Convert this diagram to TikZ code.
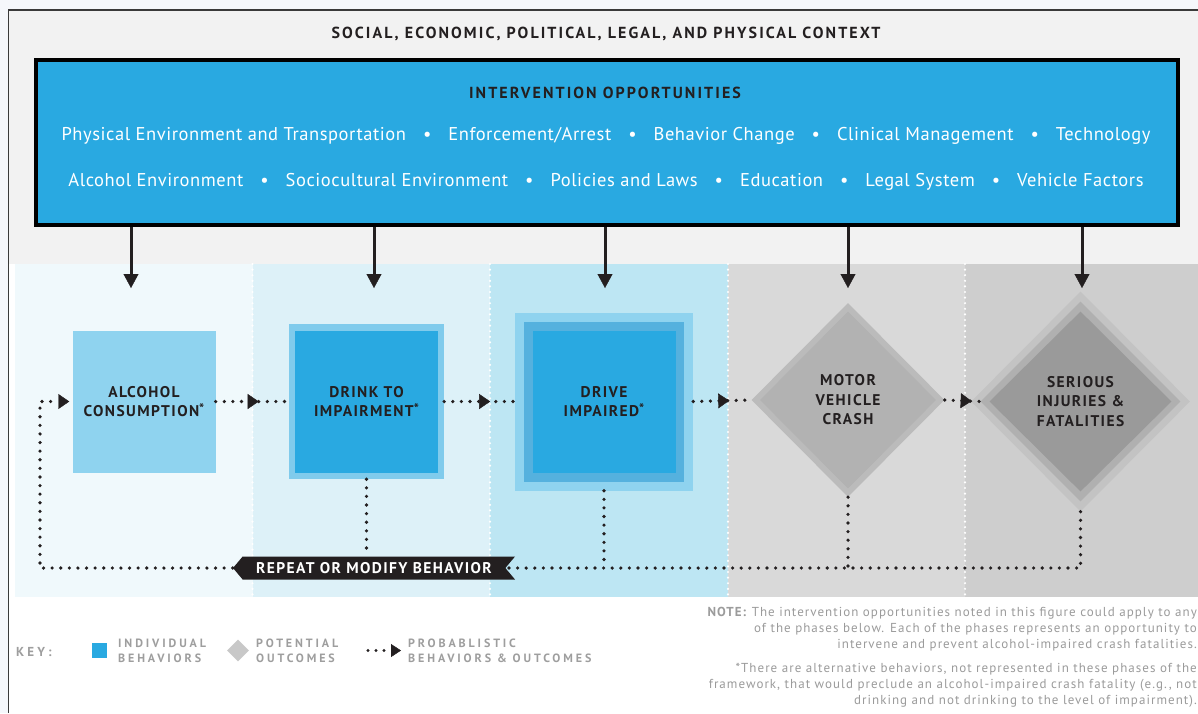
\documentclass[tikz,border=0pt]{standalone}
\usepackage{fontspec}
\setmainfont{PT Sans}
\newfontfamily\dinfont[LetterSpace=9]{PT Sans}
\newfontfamily\titlefont[LetterSpace=13]{PT Sans}
\newfontfamily\rowfont[LetterSpace=3]{PT Sans}
\newfontfamily\keyfont[LetterSpace=24]{PT Sans}
\newfontfamily\notefont[LetterSpace=8]{PT Sans}
\usetikzlibrary{shapes.geometric, shapes.symbols, arrows.meta, decorations.markings, positioning, calc}

\definecolor{pagebg}{HTML}{F5F7FB}
\definecolor{framegray}{HTML}{3A3A3A}
\definecolor{ctxgray}{HTML}{F2F2F2}
\definecolor{ivblue}{HTML}{29A9E1}
\definecolor{inkdark}{HTML}{231F20}
\definecolor{bandA}{HTML}{F0F9FC}
\definecolor{bandB}{HTML}{DDF1F8}
\definecolor{bandC}{HTML}{BDE6F3}
\definecolor{bandD}{HTML}{D9D9D9}
\definecolor{bandE}{HTML}{CECECE}
\definecolor{paleblue}{HTML}{8FD3EF}
\definecolor{rimblue}{HTML}{80CBEC}
\definecolor{midblue}{HTML}{55B1DE}
\definecolor{crashrim}{HTML}{BBBBBB}
\definecolor{crashcore}{HTML}{B2B2B2}
\definecolor{sevrim}{HTML}{C3C3C3}
\definecolor{sevmid}{HTML}{B0B0B0}
\definecolor{sevcore}{HTML}{9A9A9A}
\definecolor{keygray}{HTML}{9E9E9E}
\definecolor{keydiamond}{HTML}{C8C8C8}
\definecolor{notegray}{HTML}{9B9B9B}

\tikzstyle{phase}=[inner sep=0pt, font=\dinfont\bfseries\fontsize{15.5}{19.5}\selectfont, text=inkdark, align=center]
\tikzstyle{heading}=[inner sep=0pt, font=\titlefont\bfseries\fontsize{16}{19}\selectfont, text=inkdark]
\tikzstyle{opprow}=[inner sep=0pt, text=white, font=\rowfont\fontsize{18.5}{21}\selectfont]
\tikzstyle{behavior}=[rectangle, inner sep=0pt, draw=none]
\tikzstyle{outcome}=[shape=diamond, aspect=1, inner sep=0pt, draw=none]
\tikzstyle{dotline}=[inkdark, line width=3.6pt, dash pattern=on 0pt off 8.6pt, line cap=round]
\tikzstyle{sepline}=[white, line width=2.4pt, dash pattern=on 0pt off 5.6pt, line cap=round]
\tikzstyle{downarrow}=[inkdark, line width=3pt, -{Triangle[length=14pt, width=15pt, line width=0.4pt]}]
\tikzstyle{keytext}=[inner sep=0pt, anchor=west, align=left, text=keygray, font=\keyfont\bfseries\fontsize{12}{15}\selectfont]
\tikzstyle{notetext}=[inner sep=0pt, anchor=north east, align=right, text=notegray, font=\notefont\fontsize{13}{16}\selectfont]
\tikzset{midtip/.style={postaction={decorate, decoration={markings,
  mark=at position #1 with {\arrow{Triangle[length=11pt, width=15pt, line width=0.4pt]}}}}}}
\newcommand{\oppsep}{\hspace{17pt}\textbullet\hspace{17pt}}
\newcommand{\fnmark}{\raisebox{3.5pt}{\fontsize{13.5}{13.5}\selectfont*}}

\begin{document}
\begin{tikzpicture}[x=1pt, y=-1pt]
\useasboundingbox (0,0) rectangle (1198,713);

% background, context frame
\fill[pagebg] (0,0) rectangle (1198,713);
\fill[white] (8.5,10) rectangle (1198,713);
\fill[ctxgray] (8.5,10) rectangle (1198,264);
\draw[framegray, line width=1.4pt] (8.5,713) -- (8.5,10) -- (1198,10);
\node[heading] (context) at (606,34) {SOCIAL, ECONOMIC, POLITICAL, LEGAL, AND PHYSICAL CONTEXT};

% intervention box
\node[draw=black, line width=4pt, fill=ivblue, minimum width=1142pt, minimum height=165pt, inner sep=0pt] (opps) at (607,142.5) {};
\node[heading] (oppstitle) at (605,93) {INTERVENTION OPPORTUNITIES};
\node[opprow] (row1) at (606,136) {Physical Environment and Transportation\oppsep Enforcement/Arrest\oppsep Behavior Change\oppsep Clinical Management\oppsep Technology};
\node[opprow] (row2) at (606,182) {Alcohol Environment\oppsep Sociocultural Environment\oppsep Policies and Laws\oppsep Education\oppsep Legal System\oppsep Vehicle Factors};

% phase bands
\fill[bandA] (14.5,264) rectangle (252.5,597);
\fill[bandB] (252.5,264) rectangle (490,597);
\fill[bandC] (490,264) rectangle (728,597);
\fill[bandD] (728,264) rectangle (965,597);
\fill[bandE] (965,264) rectangle (1198,597);
\draw[sepline] (252.5,264) -- (252.5,597);\draw[sepline] (490,264) -- (490,597);
\draw[sepline] (728,264) -- (728,597);\draw[sepline] (965,264) -- (965,597);

% arrows into the phases
\coordinate (in1) at (131,288);\coordinate (in2) at (374,288);\coordinate (in3) at (605,288);
\coordinate (in4) at (848,288);\coordinate (in5) at (1082,288);
\draw[downarrow] (opps.south -| in1) -- (in1);\draw[downarrow] (opps.south -| in2) -- (in2);
\draw[downarrow] (opps.south -| in3) -- (in3);\draw[downarrow] (opps.south -| in4) -- (in4);
\draw[downarrow] (opps.south -| in5) -- (in5);

% behaviors
\node[behavior, phase, fill=paleblue, minimum width=143pt, minimum height=142pt] (alc) at (144,401.5) {ALCOHOL\\CONSUMPTION\fnmark};
\node[behavior, fill=rimblue, minimum width=155pt, minimum height=155pt] (drinkrim) at (366.5,401.5) {};
\node[behavior, phase, fill=ivblue, minimum width=143pt, minimum height=142pt] (drink) at (drinkrim) {DRINK TO\\IMPAIRMENT\fnmark};
\node[behavior, fill=paleblue, minimum width=178pt, minimum height=178pt] (driverim) at (604,401.5) {};
\node[behavior, fill=midblue, minimum width=160pt, minimum height=160pt] (drivemid) at (driverim) {};
\node[behavior, phase, fill=ivblue, minimum width=143pt, minimum height=142pt] (drive) at (driverim) {DRIVE\\IMPAIRED\fnmark};

% outcomes
\node[outcome, fill=crashrim, minimum width=193pt, minimum height=194pt] (crashrim) at (848,400) {};
\node[outcome, phase, fill=crashcore, minimum width=176pt, minimum height=177pt] (crash) at (crashrim) {MOTOR\\VEHICLE\\CRASH};
\node[outcome, fill=sevrim, minimum width=219pt, minimum height=220pt] (sevrim) at (1080.5,401.5) {};
\node[outcome, fill=sevmid, minimum width=200pt, minimum height=200pt] (sevmid) at (sevrim) {};
\node[outcome, phase, fill=sevcore, minimum width=182pt, minimum height=180pt] (sev) at (sevrim) {SERIOUS\\INJURIES \&\\FATALITIES};

% forward path
\draw[dotline, midtip=43pt] (alc.east) -- (drinkrim.west);
\draw[dotline, midtip=46pt] (drinkrim.east) -- (driverim.west);
\draw[dotline, midtip=36pt] (driverim.east) -- (crashrim.west);
\draw[dotline, midtip=27pt] (crashrim.east) -- (sevmid.west);

% feedback loop
\node[shape=signal, signal to=west, signal from=east, signal pointer angle=100, fill=inkdark, text=white, inner sep=0pt,
  minimum width=282pt, minimum height=23pt, font=\dinfont\bfseries\fontsize{15.5}{16}\selectfont] (repeat) at (374,568) {REPEAT OR MODIFY BEHAVIOR};
\coordinate (back) at (40,401.5);
\draw[dotline] (drinkrim.south) -- (drinkrim.south |- repeat.north);
\draw[dotline] (driverim.south) -- (driverim.south |- repeat);
\draw[dotline] (crashrim.south) -- (crashrim.south |- repeat);
\draw[dotline] (sevrim.south) -- (sevrim.south |- repeat) -- (repeat.east);
\draw[dotline, -{Triangle[length=11pt, width=15pt, line width=0.4pt]}, shorten >=3pt] (repeat.west) -| (back) -- (alc.west);

% key
\node[keytext, font=\keyfont\bfseries\fontsize{13}{15}\selectfont] (key) at (16,652) {KEY:};
\node[behavior, fill=ivblue, minimum size=15pt] (keybeh) at (99,650) {};
\node[keytext] (keybehtext) at (118,651) {INDIVIDUAL\\BEHAVIORS};
\node[outcome, fill=keydiamond, minimum width=22pt, minimum height=22pt] (keyout) at (238,650.5) {};
\node[keytext] (keyouttext) at (256,651) {POTENTIAL\\OUTCOMES};
\coordinate (keyfrom) at (368,650.5);\coordinate (keyto) at (401,650.5);
\draw[dotline, line width=3.2pt, dash pattern=on 0pt off 8pt, -{Triangle[length=10pt, width=13pt, line width=0.4pt]}] (keyfrom) -- (keyto);
\node[keytext] (keyprobtext) at (408,651) {PROBABLISTIC\\BEHAVIORS \& OUTCOMES};

% notes
\node[notetext] (note) at (1197,607) {\textbf{NOTE:} The intervention opportunities noted in this figure could apply to any\\of the phases below. Each of the phases represents an opportunity to\\intervene and prevent alcohol-impaired crash fatalities.};
\node[notetext] (altnote) at (1197,663) {*There are alternative behaviors, not represented in these phases of the\\framework, that would preclude an alcohol-impaired crash fatality (e.g., not\\drinking and not drinking to the level of impairment).};
\end{tikzpicture}
\end{document}
